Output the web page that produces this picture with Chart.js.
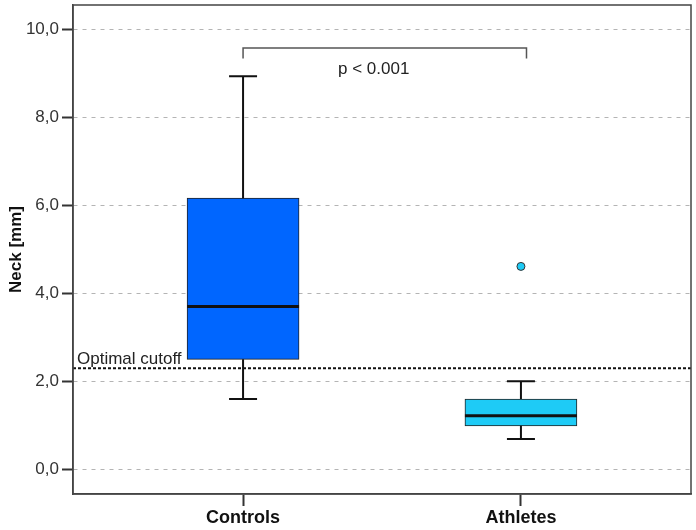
<!DOCTYPE html>
<html>
<head>
<meta charset="utf-8">
<script src="https://cdn.jsdelivr.net/npm/chart.js@4.4.1/dist/chart.umd.min.js"></script>
<style>
  html, body { margin: 0; padding: 0; background: #ffffff; }
  #wrap { width: 696px; height: 530px; position: relative; }
</style>
</head>
<body>
<div id="wrap"><canvas id="c" width="696" height="530"></canvas></div>
<script>
// ---- data ----
const categories = ['Controls', 'Athletes'];
const categoryPos = [0, 1];
const whiskerLow  = [1.60, 0.69];
const q1          = [2.50, 0.99];
const median      = [3.70, 1.22];
const q3          = [6.16, 1.60];
const whiskerHigh = [8.93, 2.00];
const outlierX    = [1];
const outlierY    = [4.61];
const yTicks      = [0, 2, 4, 6, 8, 10];
const cutoffValue = 2.30;
const cutoffLabel = 'Optimal cutoff';
const bracketFrom = 0, bracketTo = 1.02, bracketTop = 9.57, bracketEnd = 9.33;
const pLabel = 'p < 0.001', pLabelX = 0.47, pLabelY = 9.08;
const boxColors = ['#0066ff', '#1ecbf6'];

const FONT = '"Liberation Sans", Arial, sans-serif';
const FRAME = '#444444';

const boxPlugin = {
  id: 'boxExtras',
  afterDatasetsDraw(chart) {
    const ctx = chart.ctx;
    const xs = chart.scales.x, ys = chart.scales.y;
    const meta = chart.getDatasetMeta(0);
    const area = chart.chartArea;
    ctx.save();
    // whiskers, caps, medians
    categoryPos.forEach((p, i) => {
      const x = xs.getPixelForValue(p);
      const half = meta.data[i].width / 2;
      ctx.strokeStyle = '#111';
      ctx.lineWidth = 2;
      ctx.setLineDash([]);
      ctx.beginPath();
      ctx.moveTo(x, ys.getPixelForValue(q3[i]));
      ctx.lineTo(x, ys.getPixelForValue(whiskerHigh[i]));
      ctx.moveTo(x, ys.getPixelForValue(q1[i]));
      ctx.lineTo(x, ys.getPixelForValue(whiskerLow[i]));
      const capHalf = half / 4;
      ctx.moveTo(x - capHalf, ys.getPixelForValue(whiskerHigh[i]));
      ctx.lineTo(x + capHalf, ys.getPixelForValue(whiskerHigh[i]));
      ctx.moveTo(x - capHalf, ys.getPixelForValue(whiskerLow[i]));
      ctx.lineTo(x + capHalf, ys.getPixelForValue(whiskerLow[i]));
      ctx.stroke();
      ctx.lineWidth = 3;
      ctx.beginPath();
      ctx.moveTo(x - half, ys.getPixelForValue(median[i]));
      ctx.lineTo(x + half, ys.getPixelForValue(median[i]));
      ctx.stroke();
    });
    // cutoff line
    const cy = ys.getPixelForValue(cutoffValue);
    ctx.strokeStyle = '#111';
    ctx.lineWidth = 2;
    ctx.setLineDash([3, 2]);
    ctx.beginPath();
    ctx.moveTo(area.left, cy);
    ctx.lineTo(area.right, cy);
    ctx.stroke();
    ctx.setLineDash([]);
    ctx.fillStyle = '#222';
    ctx.font = '17px ' + FONT;
    ctx.textAlign = 'left';
    ctx.textBaseline = 'alphabetic';
    ctx.fillText(cutoffLabel, area.left + 4, cy - 4);
    // bracket
    const bx1 = xs.getPixelForValue(bracketFrom), bx2 = xs.getPixelForValue(bracketTo);
    const by = ys.getPixelForValue(bracketTop), be = ys.getPixelForValue(bracketEnd);
    ctx.strokeStyle = '#555';
    ctx.lineWidth = 1.5;
    ctx.beginPath();
    ctx.moveTo(bx1, be); ctx.lineTo(bx1, by); ctx.lineTo(bx2, by); ctx.lineTo(bx2, be);
    ctx.stroke();
    ctx.fillStyle = '#222';
    ctx.textAlign = 'center';
    ctx.textBaseline = 'middle';
    ctx.fillText(pLabel, xs.getPixelForValue(pLabelX), ys.getPixelForValue(pLabelY));
    // frame
    ctx.strokeStyle = FRAME;
    ctx.lineWidth = 1.5;
    ctx.strokeRect(area.left, area.top, area.right - area.left, area.bottom - area.top);
    ctx.restore();
  }
};

new Chart(document.getElementById('c'), {
  type: 'bar',
  data: {
    datasets: [
      {
        type: 'bar',
        data: categoryPos.map((p, i) => ({ x: p, y: [q1[i], q3[i]] })),
        backgroundColor: boxColors,
        borderColor: '#222',
        borderWidth: 1,
        borderSkipped: false,
        barThickness: 112
      },
      {
        type: 'scatter',
        data: outlierX.map((x, i) => ({ x: x, y: outlierY[i] })),
        backgroundColor: boxColors[1],
        borderColor: '#333',
        borderWidth: 1,
        pointRadius: 4
      }
    ]
  },
  options: {
    responsive: false,
    animation: false,
    layout: { padding: { top: 5, right: 5, left: 0, bottom: 0 } },
    plugins: { legend: { display: false }, tooltip: { enabled: false } },
    scales: {
      x: {
        type: 'linear',
        offset: false,
        min: -0.612, max: 1.612,
        afterBuildTicks: s => { s.ticks = categoryPos.map(v => ({ value: v })); },
        afterFit: s => { s.height = 36; s.paddingLeft = 0; s.paddingRight = 0; },
        ticks: {
          callback: v => categories[categoryPos.indexOf(v)] ?? '',
          color: '#111',
          padding: 1,
          font: { family: FONT, size: 18, weight: 'bold' },
          maxRotation: 0
        },
        grid: { offset: false, drawOnChartArea: false, drawTicks: true, tickLength: 12, tickColor: '#333', tickWidth: 2 },
        border: { display: true, color: FRAME, width: 1.5 }
      },
      y: {
        type: 'linear',
        min: -0.557, max: 10.545,
        afterBuildTicks: s => { s.ticks = yTicks.map(v => ({ value: v })); },
        afterFit: s => { s.width = 73; s.paddingTop = 0; s.paddingBottom = 0; },
        ticks: {
          callback: v => v.toFixed(1).replace('.', ','),
          color: '#333',
          padding: 3,
          font: { family: FONT, size: 17 }
        },
        grid: { color: '#b4b4b4', lineWidth: 1, tickLength: 11, tickColor: '#333', tickWidth: 2 },
        border: { display: true, color: FRAME, width: 1.5, dash: [4, 5] },
        title: {
          display: true,
          text: 'Neck [mm]',
          color: '#111',
          padding: { top: 6, bottom: 0 },
          font: { family: FONT, size: 17, weight: 'bold' }
        }
      }
    }
  },
  plugins: [boxPlugin]
});
</script>
</body>
</html>
